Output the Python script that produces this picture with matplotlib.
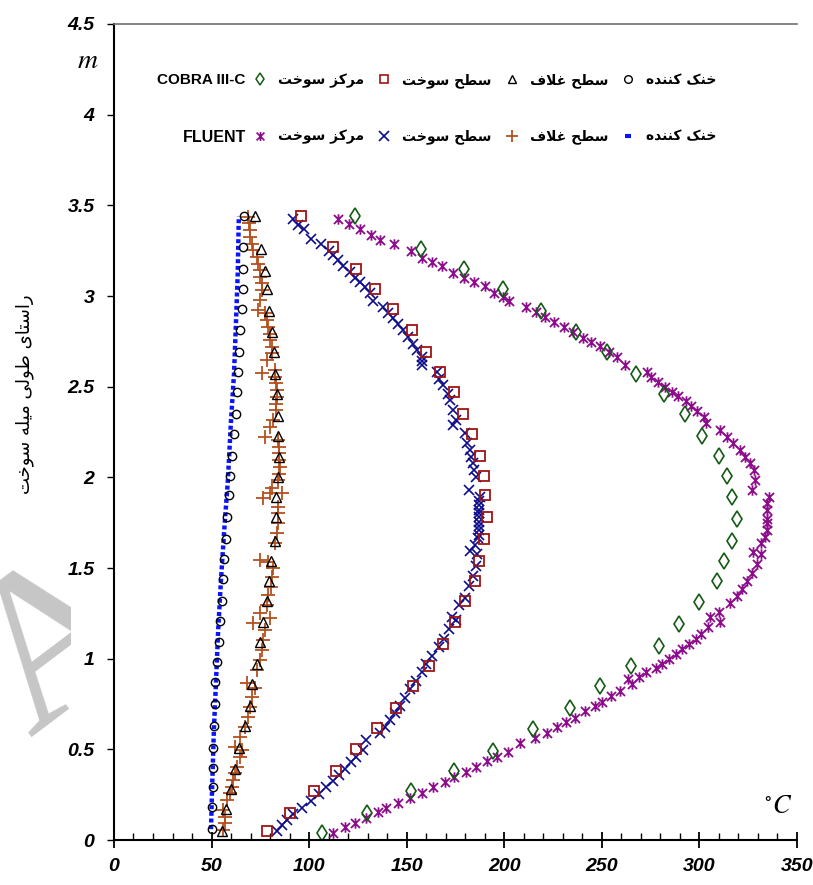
import numpy as np
import matplotlib.pyplot as plt
from matplotlib.path import Path
from matplotlib.lines import Line2D
from matplotlib.transforms import Bbox
from matplotlib import font_manager

plt.rcParams['mathtext.fontset'] = 'stix'

# ---- COBRA III-C (open markers) ----
cb_cool_y = [0.06, 0.18, 0.29, 0.40, 0.51, 0.63, 0.75, 0.87, 0.98, 1.09, 1.21, 1.32, 1.44, 1.55, 1.66,
             1.78, 1.90, 2.01, 2.12, 2.24, 2.35, 2.47, 2.58, 2.69, 2.81, 2.93, 3.04, 3.15, 3.27, 3.44]
cb_cool_x = [50.0, 50.0, 50.6, 50.6, 50.9, 51.4, 51.6, 51.9, 52.6, 53.9, 54.3, 55.2, 55.7, 56.5, 57.2,
             57.9, 59.1, 59.6, 60.5, 61.6, 62.3, 62.9, 63.4, 64.2, 64.7, 65.4, 65.9, 66.2, 66.2, 66.7]

cb_clad_y = [0.05, 0.17, 0.28, 0.39, 0.51, 0.63, 0.74, 0.86, 0.97, 1.09, 1.20, 1.32, 1.43, 1.54, 1.65,
             1.78, 1.89, 2.00, 2.11, 2.23, 2.34, 2.46, 2.57, 2.69, 2.80, 2.92, 3.04, 3.14, 3.26, 3.44]
cb_clad_x = [55.3, 57.4, 59.9, 62.1, 64.2, 67.3, 69.5, 70.9, 73.4, 75.0, 76.5, 78.2, 79.6, 80.4, 82.3,
             83.1, 83.1, 84.2, 84.5, 83.9, 83.9, 83.4, 82.6, 82.0, 80.8, 79.4, 78.5, 77.4, 75.2, 72.2]

cb_surf_y = [0.05, 0.15, 0.27, 0.38, 0.50, 0.62, 0.73, 0.85, 0.96, 1.08, 1.20, 1.32, 1.43, 1.54, 1.66,
             1.78, 1.90, 2.01, 2.12, 2.24, 2.35, 2.47, 2.58, 2.69, 2.81, 2.93, 3.04, 3.15, 3.27, 3.44]
cb_surf_x = [78.6, 90.1, 102.3, 113.8, 123.9, 134.8, 144.5, 153.0, 161.5, 168.4, 174.6, 179.8, 184.8, 187.2, 189.5,
             191.4, 190.1, 189.7, 187.7, 183.6, 179.1, 174.3, 167.2, 159.8, 152.8, 143.1, 133.7, 124.0, 112.3, 95.6]

cb_cent_y = [0.04, 0.15, 0.27, 0.38, 0.49, 0.61, 0.73, 0.85, 0.96, 1.07, 1.19, 1.31, 1.43, 1.54, 1.65,
             1.77, 1.89, 2.01, 2.12, 2.23, 2.35, 2.46, 2.57, 2.69, 2.80, 2.92, 3.04, 3.15, 3.26, 3.44]
cb_cent_x = [106.6, 129.6, 152.1, 174.4, 194.4, 214.8, 233.5, 249.3, 264.9, 279.4, 289.6, 299.8, 308.9, 312.7, 316.8,
             319.2, 316.6, 314.2, 310.1, 301.1, 292.5, 281.8, 267.3, 252.9, 237.0, 218.6, 199.1, 179.2, 157.4, 123.6]

# ---- FLUENT ----
fl_cool_y = [0.06, 0.33, 0.61, 0.88, 1.16, 1.43, 1.71, 1.99, 2.30, 2.57, 2.85, 3.12, 3.40, 3.44]
fl_cool_x = [49.7, 50.4, 51.2, 52.3, 53.4, 54.8, 56.5, 58.4, 59.9, 61.5, 62.5, 63.4, 63.9, 64.0]

fl_clad_y = [0.055, 0.092, 0.128, 0.165, 0.221, 0.257, 0.294, 0.331, 0.368, 0.404, 0.459, 0.496, 0.514, 0.570,
             0.625, 0.680, 0.735, 0.790, 0.836, 0.864, 0.937, 0.992, 1.047, 1.103, 1.158, 1.195, 1.222, 1.250,
             1.296, 1.351, 1.396, 1.452, 1.498, 1.534, 1.544, 1.636, 1.691, 1.746, 1.801, 1.838, 1.884, 1.911,
             1.911, 1.939, 1.985, 2.021, 2.058, 2.095, 2.132, 2.168, 2.205, 2.223, 2.278, 2.315, 2.370, 2.407,
             2.444, 2.481, 2.518, 2.554, 2.573, 2.591, 2.646, 2.683, 2.719, 2.756, 2.793, 2.830, 2.867, 2.904,
             2.922, 2.977, 3.032, 3.069, 3.105, 3.142, 3.179, 3.216, 3.253, 3.289, 3.326, 3.363, 3.400, 3.436]
fl_clad_x = [56.0, 56.9, 56.9, 56.0, 57.7, 59.4, 60.3, 61.1, 62.0, 62.9, 64.5, 65.4, 62.0, 64.5,
             67.1, 68.8, 69.7, 70.5, 72.2, 68.0, 73.1, 74.8, 75.7, 76.5, 77.4, 71.4, 79.9, 74.8,
             78.2, 79.0, 80.3, 80.8, 81.6, 79.0, 74.8, 82.5, 83.7, 84.2, 84.2, 84.2, 76.5, 79.9,
             85.9, 80.8, 84.2, 84.5, 85.0, 84.5, 84.5, 84.5, 84.2, 77.4, 79.9, 81.6, 83.0, 83.0,
             83.7, 83.3, 83.0, 82.5, 75.7, 82.5, 78.2, 80.8, 80.8, 79.9, 79.9, 79.0, 78.2, 77.4,
             73.9, 74.8, 75.7, 75.7, 74.8, 74.8, 73.9, 73.1, 71.4, 70.5, 69.7, 69.7, 69.3, 68.5]

fl_surf_y = [0.050, 0.085, 0.113, 0.141, 0.175, 0.216, 0.253, 0.290, 0.327, 0.361, 0.393, 0.430, 0.458, 0.495,
             0.551, 0.588, 0.626, 0.663, 0.700, 0.738, 0.784, 0.831, 0.877, 0.924, 0.970, 1.017, 1.063, 1.110,
             1.166, 1.213, 1.232, 1.297, 1.334, 1.399, 1.455, 1.511, 1.576, 1.595, 1.626, 1.663, 1.680, 1.709,
             1.730, 1.755, 1.780, 1.801, 1.820, 1.847, 1.870, 1.893, 1.929, 2.003, 2.040, 2.077, 2.113, 2.150,
             2.187, 2.242, 2.288, 2.315, 2.370, 2.426, 2.462, 2.508, 2.545, 2.582, 2.619, 2.640, 2.664, 2.705,
             2.738, 2.775, 2.811, 2.848, 2.876, 2.909, 2.937, 2.973, 3.014, 3.050, 3.078, 3.102, 3.133, 3.164,
             3.197, 3.225, 3.249, 3.289, 3.317, 3.372, 3.394, 3.422]
fl_surf_x = [83.5, 86.1, 88.7, 91.9, 96.5, 100.9, 105.2, 108.7, 112.1, 115.1, 118.5, 121.6, 124.2, 127.7,
             129.4, 136.4, 138.9, 141.5, 144.2, 146.7, 149.3, 151.9, 154.6, 157.6, 160.1, 163.2, 166.6, 169.3,
             171.9, 175.3, 173.3, 177.0, 179.7, 181.9, 184.0, 185.4, 186.1, 182.2, 184.9, 186.6, 187.0, 187.0,
             187.0, 187.0, 187.0, 187.1, 187.1, 187.1, 187.1, 187.5, 182.0, 185.5, 184.4, 184.1, 183.2, 182.4,
             181.0, 179.8, 173.8, 175.2, 173.8, 172.1, 171.3, 168.7, 166.7, 165.3, 157.6, 157.6, 157.6, 155.4,
             153.3, 150.8, 148.2, 145.6, 143.1, 140.5, 138.0, 132.5, 131.1, 128.6, 126.0, 123.5, 120.9, 117.5,
             114.9, 112.4, 110.3, 105.9, 100.8, 97.3, 94.4, 91.5]

fl_cent_y = [0.039, 0.070, 0.094, 0.122, 0.156, 0.179, 0.206, 0.230, 0.262, 0.290, 0.318, 0.346, 0.374, 0.402,
             0.434, 0.458, 0.486, 0.533, 0.561, 0.588, 0.626, 0.650, 0.672, 0.710, 0.738, 0.760, 0.797, 0.821,
             0.859, 0.886, 0.901, 0.924, 0.948, 0.970, 0.998, 1.026, 1.055, 1.082, 1.110, 1.138, 1.175, 1.203,
             1.231, 1.259, 1.306, 1.343, 1.386, 1.427, 1.474, 1.520, 1.576, 1.591, 1.636, 1.672, 1.709, 1.746,
             1.773, 1.819, 1.856, 1.893, 1.929, 1.985, 2.040, 2.077, 2.113, 2.150, 2.187, 2.220, 2.260, 2.297,
             2.334, 2.365, 2.393, 2.420, 2.449, 2.471, 2.499, 2.527, 2.554, 2.582, 2.619, 2.664, 2.690, 2.723,
             2.747, 2.771, 2.802, 2.830, 2.854, 2.885, 2.912, 2.937, 2.971, 2.995, 3.019, 3.054, 3.078, 3.102,
             3.128, 3.163, 3.188, 3.210, 3.247, 3.289, 3.311, 3.339, 3.368, 3.396, 3.422]
fl_cent_x = [112.4, 118.2, 123.7, 129.4, 135.5, 139.4, 145.3, 151.9, 158.0, 163.5, 169.6, 174.4, 180.2, 185.7,
             191.2, 196.1, 201.8, 208.2, 216.0, 221.7, 227.0, 231.6, 236.3, 241.5, 246.3, 250.2, 254.7, 259.3,
             265.7, 263.6, 268.8, 272.6, 277.5, 280.9, 284.4, 287.9, 291.3, 294.8, 298.3, 300.9, 304.4, 310.4,
             305.2, 310.0, 315.6, 319.1, 321.7, 324.3, 326.8, 329.5, 331.6, 327.7, 331.8, 333.5, 334.4, 334.7,
             334.7, 334.7, 334.4, 335.7, 326.7, 328.4, 327.9, 325.8, 323.3, 320.7, 317.3, 314.2, 310.8, 303.3,
             302.3, 298.8, 295.8, 293.0, 289.1, 286.0, 282.6, 278.7, 275.1, 272.9, 262.1, 257.8, 253.6, 249.1,
             244.4, 240.1, 235.3, 230.5, 225.6, 220.8, 216.5, 211.1, 202.5, 199.4, 194.7, 189.9, 184.6, 179.3,
             173.7, 168.2, 162.9, 157.6, 152.2, 143.4, 136.3, 131.5, 126.0, 120.6, 114.6]

x_ticks = [0, 50, 100, 150, 200, 250, 300, 350]
y_ticks = [0, 0.5, 1, 1.5, 2, 2.5, 3, 3.5, 4, 4.5]
y_ticklabels = ['0', '0.5', '1', '1.5', '2', '2.5', '3', '3.5', '4', '4.5']

lbl_cool = 'خنک کننده'
lbl_clad = 'سطح غلاف'
lbl_surf = 'سطح سوخت'
lbl_cent = 'مرکز سوخت'
lbl_axis = 'راستای طولی میله سوخت'

# presentation forms: isolated, final, initial, medial
FORMS = {
    '\u0627': ('\uFE8D', '\uFE8E', None, None),
    '\u062A': ('\uFE95', '\uFE96', '\uFE97', '\uFE98'),
    '\u062D': ('\uFEA1', '\uFEA2', '\uFEA3', '\uFEA4'),
    '\u062E': ('\uFEA5', '\uFEA6', '\uFEA7', '\uFEA8'),
    '\u062F': ('\uFEA9', '\uFEAA', None, None),
    '\u0631': ('\uFEAD', '\uFEAE', None, None),
    '\u0632': ('\uFEAF', '\uFEB0', None, None),
    '\u0633': ('\uFEB1', '\uFEB2', '\uFEB3', '\uFEB4'),
    '\u0637': ('\uFEC1', '\uFEC2', '\uFEC3', '\uFEC4'),
    '\u063A': ('\uFECD', '\uFECE', '\uFECF', '\uFED0'),
    '\u0641': ('\uFED1', '\uFED2', '\uFED3', '\uFED4'),
    '\u0644': ('\uFEDD', '\uFEDE', '\uFEDF', '\uFEE0'),
    '\u0645': ('\uFEE1', '\uFEE2', '\uFEE3', '\uFEE4'),
    '\u0646': ('\uFEE5', '\uFEE6', '\uFEE7', '\uFEE8'),
    '\u0647': ('\uFEE9', '\uFEEA', '\uFEEB', '\uFEEC'),
    '\u0648': ('\uFEED', '\uFEEE', None, None),
    '\u06A9': ('\uFB8E', '\uFB8F', '\uFB90', '\uFB91'),
    '\u0643': ('\uFB8E', '\uFB8F', '\uFB90', '\uFB91'),
    '\u06CC': ('\uFBFC', '\uFBFD', '\uFBFE', '\uFBFF'),
    '\u064A': ('\uFBFC', '\uFBFD', '\uFBFE', '\uFBFF'),
}


def fa(s):
    # join letters and put them in visual (left-to-right) order
    out = []
    i = 0
    while i < len(s):
        c = s[i]
        f = FORMS.get(c)
        if f is None:
            out.append(c)
            i += 1
            continue
        prev = s[i - 1] if i > 0 else ''
        jp = prev in FORMS and FORMS[prev][2] is not None
        if c == '\u0644' and i + 1 < len(s) and s[i + 1] == '\u0627':
            out.append('\uFEFC' if jp else '\uFEFB')
            i += 2
            continue
        nxt = s[i + 1] if i + 1 < len(s) else ''
        jn = f[2] is not None and nxt in FORMS
        if jp and jn:
            g = f[3]
        elif jp:
            g = f[1]
        elif jn:
            g = f[2]
        else:
            g = f[0]
        out.append(g)
        i += 1
    return ''.join(reversed(out))


installed = {f.name for f in font_manager.fontManager.ttflist}
narrow = 'Liberation Sans Narrow' if 'Liberation Sans Narrow' in installed else 'Liberation Sans'

star = Path([(-1, -1), (1, 1), (-1, 1), (1, -1), (0, -1.15), (0, 1.15)],
            [Path.MOVETO, Path.LINETO, Path.MOVETO, Path.LINETO, Path.MOVETO, Path.LINETO])

c_cool = '#0a14ff'
c_clad = '#b4501e'
c_surf = '#0c0c8c'
c_cent = '#8c0c8c'
c_sq = '#a01414'
c_dia = '#145a14'

fig = plt.figure(figsize=(8.13, 8.85), dpi=100)
ax = fig.add_axes([0.1402, 0.0508, 0.8401, 0.9221])

# faint watermark letter on the left edge, cut off like in the source page
wm = fig.text(93, 196, 'A', transform=None, fontsize=158, family='Liberation Serif',
              color='#c6c6c6', rotation=37, rotation_mode='anchor', ha='center', va='baseline')
wm.set_clip_box(Bbox([[0, 0], [71, 885]]))

ax.plot(fl_cool_x, fl_cool_y, color=c_cool, ls=(0, (0.9, 0.6)), lw=3.2)
ax.plot(fl_clad_x, fl_clad_y, ls='none', marker='+', ms=10, mew=1.3, color=c_clad)
ax.plot(fl_surf_x, fl_surf_y, ls='none', marker='x', ms=7.5, mew=1.2, color=c_surf)
ax.plot(fl_cent_x, fl_cent_y, ls='none', marker=star, ms=7.5, mew=1.3, color=c_cent)

ax.plot(cb_cool_x, cb_cool_y, ls='none', marker='o', ms=6, mfc='none', mec='black', mew=1)
ax.plot(cb_clad_x, cb_clad_y, ls='none', marker='^', ms=7, mfc='none', mec='black', mew=1)
ax.plot(cb_surf_x, cb_surf_y, ls='none', marker='s', ms=6.5, mfc='none', mec=c_sq, mew=1.3)
ax.plot(cb_cent_x, cb_cent_y, ls='none', marker='d', ms=8, mfc='none', mec=c_dia, mew=1.2)

ax.set_xlim(0, 350)
ax.set_ylim(0, 4.5)
ax.spines['right'].set_visible(False)
ax.spines['top'].set_color('#707070')
ax.spines['top'].set_linewidth(1.2)
ax.spines['left'].set_linewidth(1.5)
ax.spines['bottom'].set_linewidth(1.5)

tick_font = dict(family=[narrow, 'Liberation Sans'], weight='bold', style='italic', size=14)
ax.set_xticks(x_ticks)
ax.set_xticklabels([str(v) for v in x_ticks], fontdict=tick_font)
ax.set_xticks(np.arange(0, 351, 10), minor=True)
ax.set_yticks(y_ticks)
ax.set_yticklabels(y_ticklabels, fontdict=tick_font)
ax.tick_params(axis='x', which='major', direction='inout', length=12, width=1.3, pad=7)
ax.tick_params(axis='x', which='minor', direction='in', length=5, width=1)
ax.tick_params(axis='y', which='major', direction='out', length=5, width=1, pad=9)

fig.text(0.108, 0.932, '$m$', fontsize=20, ha='center', va='center')
ax.text(0.973, 0.026, r'$^{\circ}C$', transform=ax.transAxes, fontsize=19, ha='center', va='bottom')

fig.text(0.031, 0.555, fa(lbl_axis), rotation=90, ha='center', va='center',
         family='DejaVu Sans', fontsize=13)

leg_font = dict(family='DejaVu Sans', weight='bold', size=10)
h1 = [Line2D([], [], ls='none', marker='d', ms=6.5, mfc='none', mec=c_dia, mew=1.1),
      Line2D([], [], ls='none', marker='s', ms=5.5, mfc='none', mec=c_sq, mew=1.2),
      Line2D([], [], ls='none', marker='^', ms=6, mfc='none', mec='black', mew=1),
      Line2D([], [], ls='none', marker='o', ms=5.5, mfc='none', mec='black', mew=1)]
h2 = [Line2D([], [], ls='none', marker=star, ms=6.5, mew=1.2, color=c_cent),
      Line2D([], [], ls='none', marker='x', ms=6.5, mew=1.2, color=c_surf),
      Line2D([], [], ls='none', marker='+', ms=9, mew=1.3, color=c_clad),
      Line2D([], [], ls='none', marker='_', ms=5, mew=3, color=c_cool)]
labels = [fa(lbl_cent), fa(lbl_surf), fa(lbl_clad), fa(lbl_cool)]

leg_kw = dict(ncol=4, loc='center left', frameon=False, prop=leg_font, handlelength=1.0,
              handletextpad=0.8, columnspacing=0.95, borderpad=0, borderaxespad=0)
leg1 = ax.legend(h1, labels, bbox_to_anchor=(0.2035, 0.931), **leg_kw)
ax.add_artist(leg1)
ax.legend(h2, labels, bbox_to_anchor=(0.2035, 0.8615), **leg_kw)

ax.text(0.193, 0.931, 'COBRA III-C', transform=ax.transAxes, ha='right', va='center',
        family=[narrow, 'Liberation Sans'], weight='bold', fontsize=11)
ax.text(0.193, 0.8615, 'FLUENT', transform=ax.transAxes, ha='right', va='center',
        family=[narrow, 'Liberation Sans'], weight='bold', fontsize=11.5)

fig.savefig('out.png', dpi=100)
